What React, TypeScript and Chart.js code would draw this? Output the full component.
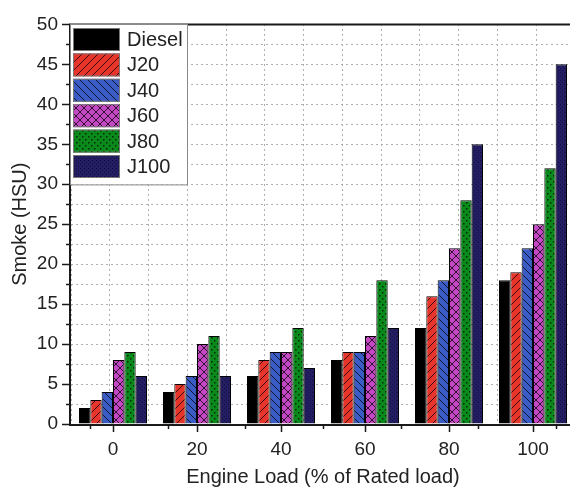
import { useEffect, useRef } from 'react';
import { Chart, registerables } from 'chart.js';

Chart.register(...registerables);

const categories = ['0', '20', '40', '60', '80', '100'];
const seriesNames = ['Diesel', 'J20', 'J40', 'J60', 'J80', 'J100'];
const diesel = [2, 4, 6, 8, 12, 18];
const j20 = [3, 5, 8, 9, 16, 19];
const j40 = [4, 6, 9, 9, 18, 22];
const j60 = [8, 10, 9, 11, 22, 25];
const j80 = [9, 11, 12, 18, 28, 32];
const j100 = [6, 6, 7, 12, 35, 45];
const seriesValues = [diesel, j20, j40, j60, j80, j100];
const yMin = 0;
const yMax = 50;
const yStep = 2.5;
const yLabelStep = 5;

const FONT = '"Liberation Sans", Arial, Helvetica, sans-serif';
const TEXT = '#222222';

function makePattern(kind: string, base: string): CanvasPattern | string {
  const size = kind === 'dots' ? 6 : kind === 'fine' ? 4 : 8;
  const c = document.createElement('canvas');
  c.width = size;
  c.height = size;
  const g = c.getContext('2d');
  if (!g) return base;
  g.fillStyle = base;
  g.fillRect(0, 0, size, size);
  g.strokeStyle = 'rgba(0,0,0,0.75)';
  g.fillStyle = 'rgba(0,0,0,0.7)';
  g.lineWidth = 1;
  const fwd = () => {
    g.beginPath();
    g.moveTo(-1, size + 1);
    g.lineTo(size + 1, -1);
    g.moveTo(-1, 1);
    g.lineTo(1, -1);
    g.moveTo(size - 1, size + 1);
    g.lineTo(size + 1, size - 1);
    g.stroke();
  };
  const back = () => {
    g.beginPath();
    g.moveTo(-1, -1);
    g.lineTo(size + 1, size + 1);
    g.moveTo(size - 1, -1);
    g.lineTo(size + 1, 1);
    g.moveTo(-1, size - 1);
    g.lineTo(1, size + 1);
    g.stroke();
  };
  if (kind === 'fwd') fwd();
  if (kind === 'back') back();
  if (kind === 'cross') {
    fwd();
    back();
  }
  if (kind === 'dots') {
    g.fillRect(1, 1, 1.5, 1.5);
    g.fillRect(4, 4, 1.5, 1.5);
  }
  if (kind === 'fine') {
    g.fillStyle = 'rgba(0,0,0,0.45)';
    g.fillRect(0, 0, 1, 1);
    g.fillRect(2, 2, 1, 1);
  }
  const p = g.createPattern(c, 'repeat');
  return p || base;
}

const framePlugin = {
  id: 'frame',
  afterDatasetsDraw(chart: any) {
    const { ctx, chartArea } = chart;
    const x = chart.scales.x;
    const xg = chart.scales.xg;
    const y = chart.scales.y;
    const L = chartArea.left - 1;
    const B = chartArea.bottom + 1;
    ctx.save();
    ctx.strokeStyle = '#1a1a1a';
    ctx.lineWidth = 2;
    ctx.beginPath();
    ctx.moveTo(L, chartArea.top);
    ctx.lineTo(L, B + 1);
    ctx.moveTo(L - 1, B);
    ctx.lineTo(chartArea.right, B);
    ctx.lineTo(chartArea.right, chartArea.top);
    ctx.lineTo(L - 1, chartArea.top);
    ctx.stroke();
    ctx.lineWidth = 1.5;
    ctx.beginPath();
    for (let v = yMin; v <= yMax + 1e-9; v += yStep) {
      const py = Math.round(y.getPixelForValue(v)) + 0.5;
      const major = Math.abs(v / yLabelStep - Math.round(v / yLabelStep)) < 1e-6;
      ctx.moveTo(L - (major ? 8 : 4), py);
      ctx.lineTo(L, py);
    }
    for (let i = 0; i < categories.length; i++) {
      const px = Math.round(x.getPixelForValue(i)) + 0.5;
      ctx.moveTo(px, B);
      ctx.lineTo(px, B + 7);
    }
    for (let i = 0; i <= categories.length; i++) {
      const px = Math.round(xg.getPixelForValue(i - 0.5)) + 0.5;
      ctx.moveTo(px, B);
      ctx.lineTo(px, B + 4);
    }
    ctx.stroke();
    ctx.restore();
  },
};

const legendPlugin = {
  id: 'boxLegend',
  afterDraw(chart: any) {
    const { ctx, chartArea } = chart;
    const bx = chartArea.left - 1;
    const by = 24;
    const bw = 117;
    const rowH = 25.4;
    const sw = 47;
    const sh = 23;
    const n = chart.data.datasets.length;
    const bh = 8 + n * rowH;
    ctx.save();
    ctx.fillStyle = '#ffffff';
    ctx.fillRect(bx, by, bw, bh);
    ctx.strokeStyle = '#8a8a8a';
    ctx.lineWidth = 1;
    ctx.strokeRect(bx + 0.5, by + 0.5, bw, bh);
    ctx.font = '20px ' + FONT;
    ctx.textBaseline = 'middle';
    ctx.textAlign = 'left';
    chart.data.datasets.forEach((ds: any, i: number) => {
      const sx = bx + 3;
      const sy = by + 4 + i * rowH;
      ctx.fillStyle = ds.backgroundColor;
      ctx.fillRect(sx, sy, sw, sh);
      ctx.strokeStyle = '#777777';
      ctx.strokeRect(sx + 0.5, sy + 0.5, sw - 1, sh - 1);
      ctx.fillStyle = TEXT;
      ctx.fillText(ds.label, sx + sw + 7, sy + sh / 2 + 1);
    });
    ctx.restore();
  },
};

export default function App() {
  const ref = useRef<HTMLCanvasElement | null>(null);
  useEffect(() => {
    if (!ref.current) return;
    const styles = [
      { base: '#000000', kind: 'solid' },
      { base: '#e8352b', kind: 'fwd' },
      { base: '#3a5cc4', kind: 'back' },
      { base: '#c447c4', kind: 'cross' },
      { base: '#0b8a1c', kind: 'dots' },
      { base: '#231d63', kind: 'fine' },
    ];
    const datasets = seriesNames.map((name, i) => ({
      label: name,
      data: seriesValues[i],
      backgroundColor: styles[i].kind === 'solid' ? styles[i].base : makePattern(styles[i].kind, styles[i].base),
      borderColor: '#000000',
      borderWidth: 1,
      barPercentage: 1,
      categoryPercentage: 0.81,
      xAxisID: 'x',
    }));
    const chart = new Chart(ref.current, {
      type: 'bar',
      data: { labels: categories, datasets },
      options: {
        responsive: false,
        animation: false,
        layout: { padding: { top: 16, right: 10, bottom: 0, left: 0 } },
        plugins: { legend: { display: false }, tooltip: { enabled: false } },
        scales: {
          x: {
            type: 'category',
            offset: true,
            grid: { display: false },
            border: { display: false },
            ticks: { font: { family: FONT, size: 19 }, color: TEXT, padding: 6, maxRotation: 0 },
            title: {
              display: true,
              text: 'Engine Load (% of Rated load)',
              font: { family: FONT, size: 20, lineHeight: 1 },
              color: TEXT,
              padding: { top: 0, bottom: 0 },
            },
            afterFit: (s: any) => {
              s.height = 63;
            },
          },
          xg: {
            type: 'linear',
            position: 'top',
            min: -0.5,
            max: 5.5,
            ticks: { stepSize: 0.5, display: false },
            grid: { color: '#b0b0b0', lineWidth: 1, drawTicks: false },
            border: { display: false, dash: [2, 3] },
            afterFit: (s: any) => {
              s.height = 0;
            },
          },
          y: {
            type: 'linear',
            min: yMin,
            max: yMax,
            ticks: {
              stepSize: yStep,
              autoSkip: false,
              font: { family: FONT, size: 19 },
              color: TEXT,
              padding: 13,
              callback: (v: any) => (Math.abs(v / yLabelStep - Math.round(v / yLabelStep)) < 1e-6 ? String(v) : ''),
            },
            grid: { color: '#b0b0b0', lineWidth: 1, drawTicks: false },
            border: { display: false, dash: [2, 3] },
            title: {
              display: true,
              text: 'Smoke (HSU)',
              font: { family: FONT, size: 20 },
              color: TEXT,
              padding: { top: 8, bottom: 0 },
            },
            afterFit: (s: any) => {
              s.width = 71;
            },
          },
        },
      },
      plugins: [framePlugin, legendPlugin],
    } as any);
    return () => chart.destroy();
  }, []);
  return (
    <div style={{ position: 'fixed', left: 0, top: 0, width: 570, height: 487, overflow: 'hidden', background: '#fff' }}>
      <canvas ref={ref} width={585} height={487} style={{ display: 'block' }} />
    </div>
  );
}
